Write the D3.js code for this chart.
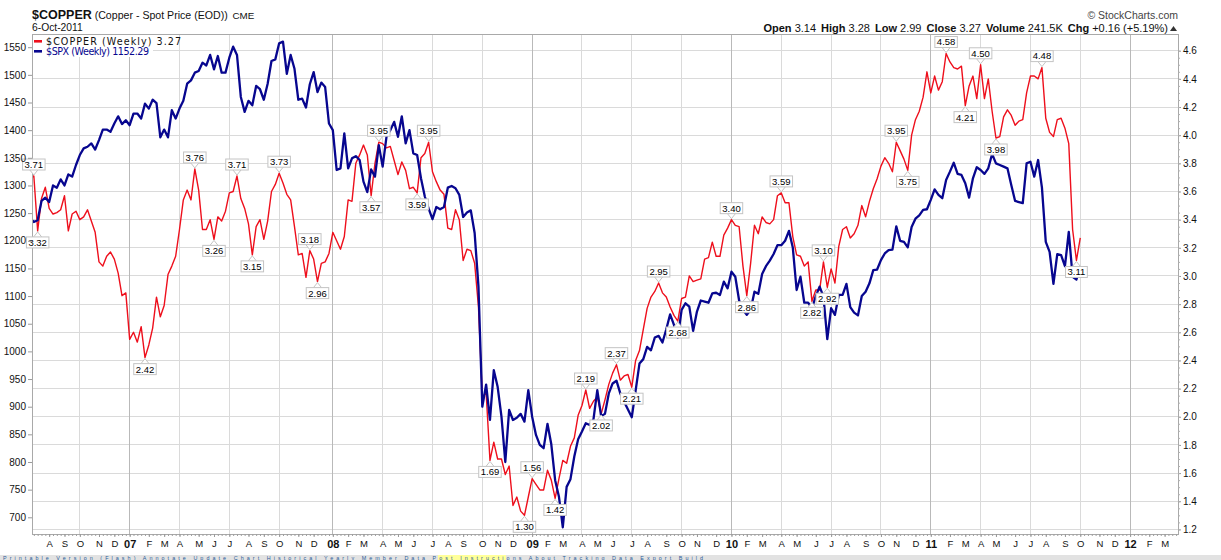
<!DOCTYPE html>
<html><head><meta charset="utf-8">
<script src="https://cdn.jsdelivr.net/npm/d3@7"></script>
<style>body{margin:0;background:#fff}svg{display:block}</style>
</head><body>
<svg id="c" width="1221" height="560"></svg>
<script>
// ---------- DATA ----------
const firstWeek = "2006-07-07";   // first weekly bar (Friday)
const lastWeek  = "2011-10-07";   // last weekly bar
// $COPPER weekly close, one value per week
const copper = [
3.70,3.71,3.32,3.55,3.63,3.48,3.44,3.45,3.47,3.57,
3.32,3.44,3.46,3.40,3.42,3.47,3.39,3.31,3.10,3.07,
3.14,3.17,3.12,3.02,2.86,2.88,2.55,2.60,2.53,2.64,
2.42,2.51,2.63,2.85,2.71,2.79,3.01,3.07,3.14,3.33,
3.54,3.61,3.54,3.76,3.61,3.33,3.33,3.40,3.26,3.42,
3.39,3.46,3.59,3.60,3.71,3.55,3.48,3.37,3.15,3.35,
3.40,3.26,3.39,3.60,3.65,3.73,3.66,3.58,3.54,3.35,
3.15,3.16,2.99,3.18,3.12,2.96,3.09,3.10,3.16,3.31,
3.25,3.19,3.28,3.54,3.53,3.80,3.86,3.93,3.86,3.57,
3.80,3.95,3.94,3.91,3.92,3.82,3.72,3.81,3.75,3.62,
3.63,3.59,3.84,3.87,3.95,3.74,3.67,3.61,3.58,3.34,
3.33,3.47,3.40,3.11,3.19,3.18,3.09,2.78,2.14,2.17,
1.69,1.82,1.70,1.70,1.59,1.65,1.37,1.43,1.33,1.30,
1.43,1.56,1.52,1.48,1.48,1.62,1.55,1.42,1.56,1.69,
1.67,1.79,1.85,2.01,2.08,2.19,2.06,2.11,2.14,2.02,
2.12,2.23,2.31,2.37,2.26,2.29,2.30,2.21,2.40,2.47,
2.62,2.77,2.85,2.89,2.95,2.88,2.85,2.78,2.72,2.68,
2.84,2.85,3.00,2.96,2.97,2.98,3.12,3.13,3.24,3.14,
3.14,3.29,3.34,3.40,3.36,3.35,3.07,2.86,3.09,3.36,
3.30,3.42,3.38,3.37,3.40,3.57,3.59,3.52,3.52,3.28,
3.15,3.14,3.07,3.10,2.82,2.90,2.90,3.10,2.92,3.05,
2.95,3.21,3.33,3.35,3.27,3.30,3.36,3.50,3.42,3.53,
3.62,3.69,3.78,3.84,3.80,3.74,3.95,3.89,3.83,3.75,
4.00,4.11,4.17,4.27,4.45,4.30,4.42,4.32,4.38,4.58,
4.52,4.48,4.47,4.49,4.21,4.35,4.42,4.26,4.50,4.26,
4.40,4.17,3.98,3.99,4.13,4.18,4.14,4.07,4.10,4.11,
4.30,4.42,4.42,4.40,4.48,4.12,4.02,3.99,4.11,4.12,
4.05,3.94,3.33,3.11,3.27];
// $SPX weekly close, one value per week
const spx = [
1240,1234,1237,1272,1278,1270,1300,1296,1311,1300,
1320,1316,1337,1355,1367,1370,1376,1365,1382,1401,
1401,1397,1412,1425,1411,1418,1409,1430,1430,1421,
1448,1439,1455,1449,1387,1401,1387,1436,1421,1439,
1453,1484,1490,1504,1507,1522,1517,1536,1510,1534,
1504,1504,1531,1551,1536,1460,1433,1453,1445,1480,
1474,1455,1484,1525,1528,1557,1560,1502,1536,1511,
1455,1457,1441,1483,1505,1469,1486,1478,1412,1400,
1328,1331,1394,1331,1349,1353,1346,1307,1288,1329,
1316,1373,1334,1388,1400,1415,1388,1425,1376,1400,
1358,1355,1313,1280,1258,1239,1261,1257,1261,1296,
1299,1295,1283,1243,1251,1255,1214,1117,900,940,
876,966,936,882,800,894,876,880,887,873,
930,882,849,831,825,869,832,767,737,682,
755,769,810,841,855,870,867,877,930,883,
887,924,942,947,924,909,895,881,929,978,
986,1008,1002,1025,1028,1016,1040,1067,1048,1025,
1075,1087,1081,1037,1072,1092,1090,1088,1105,1106,
1102,1126,1114,1144,1135,1092,1075,1066,1075,1108,
1104,1140,1154,1164,1176,1192,1192,1200,1218,1188,
1111,1135,1088,1088,1078,1100,1117,1099,1022,1078,
1066,1102,1102,1122,1080,1070,1065,1100,1108,1123,
1147,1148,1165,1177,1183,1184,1226,1200,1198,1188,
1225,1240,1246,1256,1257,1274,1293,1283,1277,1310,
1325,1341,1321,1319,1304,1278,1313,1333,1328,1321,
1331,1357,1340,1337,1334,1331,1301,1272,1270,1268,
1340,1343,1316,1346,1296,1198,1180,1122,1176,1174,
1154,1216,1135,1130,1152.29];
// annotated copper turning points (week index, 1 = label above, -1 = below)
const annotWeeks = [1,2,30,43,48,54,58,65,73,75,89,91,101,104,120,129,131,137,145,149,153,157,164,169,183,187,196,204,207,208,226,229,239,244,248,252,264,273];
const annotSide  = [1,-1,-1,1,-1,1,-1,1,1,-1,-1,1,-1,1,-1,-1,1,-1,1,-1,1,-1,1,-1,1,-1,1,-1,1,-1,1,-1,1,-1,1,-1,1,-1];
const spxTicks = [700,750,800,850,900,950,1000,1050,1100,1150,1200,1250,1300,1350,1400,1450,1500,1550];
const copperTicks = [1.2,1.4,1.6,1.8,2.0,2.2,2.4,2.6,2.8,3.0,3.2,3.4,3.6,3.8,4.0,4.2,4.4,4.6];
const monthLetters = ["J","F","M","A","M","J","J","A","S","O","N","D"];
const header = [["Open","3.14"],["High","3.28"],["Low","2.99"],["Close","3.27"],["Volume","241.5K"],["Chg","+0.16 (+5.19%)"]];
const toolLinks = ["Printable Version", "(Flash) Annotate", "Update Chart", "Historical Yearly", "Member Data", "Post", "Instructions", "About Tracking", "Data Export", "Build"];

// ---------- LAYOUT ----------
const L = 32, R = 1178, T = 34, B = 534;
const FONT = "'Liberation Sans', Arial, sans-serif";
const svg = d3.select("#c");
const parse = d3.timeParse("%Y-%m-%d");
const weeks = d3.timeFriday.range(parse(firstWeek), d3.timeDay.offset(parse(lastWeek), 1));

const x = d3.scaleTime().domain([parse("2006-07-07"), parse("2012-01-06")]).range([30, 1130.1]);
const yCu = d3.scaleLinear().domain([1.2, 4.6]).range([529.4, 50.7]);
const ySpx = d3.scaleLinear().domain([700, 1550]).range([517.3, 47.2]);

// month tick dates: first weekly bar whose Monday falls in the month
const months = d3.timeMonth.range(parse("2006-07-01"), parse("2012-04-01"));
const monthTicks = months.map(m => ({m, d: d3.timeDay.offset(d3.timeMonday.ceil(m), 4)}))
  .filter(o => x(o.d) > L + 2 && x(o.d) < R - 2);

// ---------- GRID ----------
const grid = svg.append("g");
grid.selectAll("line.h").data(copperTicks).join("line")
  .attr("x1", L).attr("x2", R).attr("y1", d => yCu(d)).attr("y2", d => yCu(d))
  .attr("stroke", "#dadada").attr("stroke-width", 1).attr("shape-rendering", "crispEdges");
grid.selectAll("line.v").data(monthTicks.filter(o => o.m.getMonth() % 3 === 0)).join("line")
  .attr("x1", o => x(o.d)).attr("x2", o => x(o.d)).attr("y1", T).attr("y2", B)
  .attr("stroke", o => o.m.getMonth() === 0 ? "#b9b9b9" : "#dadada")
  .attr("stroke-width", 1).attr("shape-rendering", "crispEdges");

// ---------- LINES ----------
svg.append("clipPath").attr("id", "clip").append("rect")
  .attr("x", L).attr("y", T).attr("width", R - L).attr("height", B - T);
const plot = svg.append("g").attr("clip-path", "url(#clip)");
const n = Math.min(weeks.length, copper.length, spx.length);
const idx = d3.range(n);
plot.append("path").datum(idx)
  .attr("d", d3.line().x(i => x(weeks[i])).y(i => yCu(copper[i])))
  .attr("fill", "none").attr("stroke", "#ee0f1c").attr("stroke-width", 1.4).attr("stroke-linejoin", "round");
plot.append("path").datum(idx)
  .attr("d", d3.line().x(i => x(weeks[i])).y(i => ySpx(spx[i])))
  .attr("fill", "none").attr("stroke", "#07068f").attr("stroke-width", 2.3).attr("stroke-linejoin", "round");

// frame
svg.append("rect").attr("x", L).attr("y", T).attr("width", R - L).attr("height", B - T)
  .attr("fill", "none").attr("stroke", "#a9a9a9").attr("stroke-width", 1).attr("shape-rendering", "crispEdges");

// ---------- ANNOTATIONS ----------
const ann = svg.append("g");
annotWeeks.forEach((k, i) => {
  const px = x(weeks[k]), py = yCu(copper[k]);
  const up = annotSide[i] > 0;
  const g = ann.append("g");
  const h = 11;
  const t = g.append("text").text(d3.format(".2f")(copper[k]))
    .attr("font-family", FONT).attr("font-size", 9.5).attr("fill", "#000")
    .attr("text-anchor", "middle").attr("x", px);
  const w = t.node().getComputedTextLength() + 4;
  const by = up ? py - 6 - h : py + 6;
  const edge = up ? by + h : by;
  const tip = up ? py - 1 : py + 1;
  g.insert("path", "text").attr("d", `M${px - 4},${edge}L${px},${tip}L${px + 4},${edge}`)
    .attr("fill", "#fff").attr("stroke", "#c4c4c4").attr("stroke-width", 1);
  g.insert("rect", "text").attr("x", px - w / 2).attr("y", by).attr("width", w).attr("height", h)
    .attr("fill", "#fff").attr("stroke", "#c4c4c4").attr("stroke-width", 1);
  t.attr("y", by + h / 2 + 3.4);
});

// ---------- AXES ----------
function styleAxis(g) {
  g.select(".domain").remove();
  g.selectAll(".tick line").attr("stroke", "#9a9a9a");
  g.selectAll(".tick text").attr("font-family", FONT).attr("font-size", 10).attr("fill", "#111");
}
svg.append("g").attr("transform", `translate(${L},0)`)
  .call(d3.axisLeft(ySpx).tickValues(spxTicks).tickSize(4).tickPadding(2).tickFormat(d3.format("d")))
  .call(styleAxis);
svg.append("g").attr("transform", `translate(${R},0)`)
  .call(d3.axisRight(yCu).tickValues(copperTicks).tickSize(3).tickPadding(2).tickFormat(d3.format(".1f")))
  .call(styleAxis);
// minor right ticks
svg.append("g").attr("transform", `translate(${R},0)`)
  .call(d3.axisRight(yCu).ticks(68).tickSize(2).tickFormat(""))
  .call(g => { g.select(".domain").remove(); g.selectAll(".tick line").attr("stroke", "#b0b0b0"); });
// weekly minor ticks on bottom
const allWeeks = d3.timeFriday.range(parse("2006-07-14"), parse("2012-03-31"));
svg.append("g").attr("transform", `translate(0,${B})`)
  .call(d3.axisBottom(x).tickValues(allWeeks.filter(d => x(d) > L && x(d) < R)).tickSize(2).tickFormat(""))
  .call(g => { g.select(".domain").remove(); g.selectAll(".tick line").attr("stroke", "#a0a0a0"); });
// month labels
const monthAxis = svg.append("g").attr("transform", `translate(0,${B})`)
  .call(d3.axisBottom(x).tickValues(monthTicks.map(o => o.d)).tickSize(3).tickPadding(3)
    .tickFormat((d, i) => {
      const m = monthTicks[i].m;
      return m.getMonth() === 0 ? d3.timeFormat("%y")(m) : monthLetters[m.getMonth()];
    }))
  .call(styleAxis);
monthAxis.selectAll(".tick text")
  .attr("font-weight", (d, i) => monthTicks[i].m.getMonth() === 0 ? "bold" : "normal")
  .attr("font-size", (d, i) => monthTicks[i].m.getMonth() === 0 ? 11 : 9.5);

// ---------- LEGEND ----------
svg.append("rect").attr("x", L + 1).attr("y", T + 1).attr("width", 120).attr("height", 22).attr("fill", "#fff");
svg.append("rect").attr("x", 34).attr("y", 40).attr("width", 8).attr("height", 2.6).attr("fill", "#ee0f1c");
svg.append("rect").attr("x", 34).attr("y", 50).attr("width", 8).attr("height", 2.6).attr("fill", "#07068f");
svg.append("text").attr("x", 46).attr("y", 45.3).text("$COPPER (Weekly) " + d3.format(".2f")(copper[n - 1]))
  .attr("font-family", "'DejaVu Sans', Verdana, sans-serif").attr("font-size", 9.6).attr("fill", "#111")
  .attr("textLength", 135).attr("lengthAdjust", "spacing");
svg.append("text").attr("x", 46).attr("y", 55.3).text("$SPX (Weekly) " + d3.format(".2f")(spx[n - 1]))
  .attr("font-family", "'DejaVu Sans', Verdana, sans-serif").attr("font-size", 9.6).attr("fill", "#07068f")
  .attr("textLength", 103).attr("lengthAdjust", "spacing");

// ---------- TITLES ----------
const title = svg.append("text").attr("x", 32).attr("y", 19).attr("font-family", FONT).attr("fill", "#111");
title.append("tspan").text("$COPPER").attr("font-weight", "bold").attr("font-size", 12.5);
title.append("tspan").text(" (Copper - Spot Price (EOD))").attr("font-size", 10.6);
title.append("tspan").text(" CME").attr("font-size", 9.8).attr("dx", 2);
svg.append("text").attr("x", 32).attr("y", 30.5).text("6-Oct-2011")
  .attr("font-family", FONT).attr("font-size", 10.3).attr("fill", "#111");
svg.append("text").attr("x", 1178).attr("y", 19).attr("text-anchor", "end").text("\u00A9 StockCharts.com")
  .attr("font-family", FONT).attr("font-size", 10.5).attr("fill", "#444");
const hdr = svg.append("text").attr("x", 1168).attr("y", 31.5).attr("text-anchor", "end")
  .attr("font-family", FONT).attr("font-size", 11).attr("fill", "#111");
header.forEach(([k, v], i) => {
  hdr.append("tspan").text(k).attr("font-weight", "bold").attr("dx", i ? 5 : 0);
  hdr.append("tspan").text(" " + v);
});
svg.append("path").attr("d", "M1170,31L1173.5,26L1177,31Z").attr("fill", "#333");

// ---------- BOTTOM TOOL STRIP ----------
svg.append("rect").attr("x", 0).attr("y", 555).attr("width", 1221).attr("height", 5).attr("fill", "#e2e2e2");
svg.append("rect").attr("x", 438).attr("y", 555).attr("width", 68).attr("height", 5).attr("fill", "#ffff99");
svg.append("text").attr("x", 3).attr("y", 559.6)
  .text(toolLinks.join("    "))
  .attr("font-family", FONT).attr("font-size", 5.4).attr("fill", "#2a5d9a")
  .attr("textLength", 700).attr("lengthAdjust", "spacing");
</script>
</body></html>
